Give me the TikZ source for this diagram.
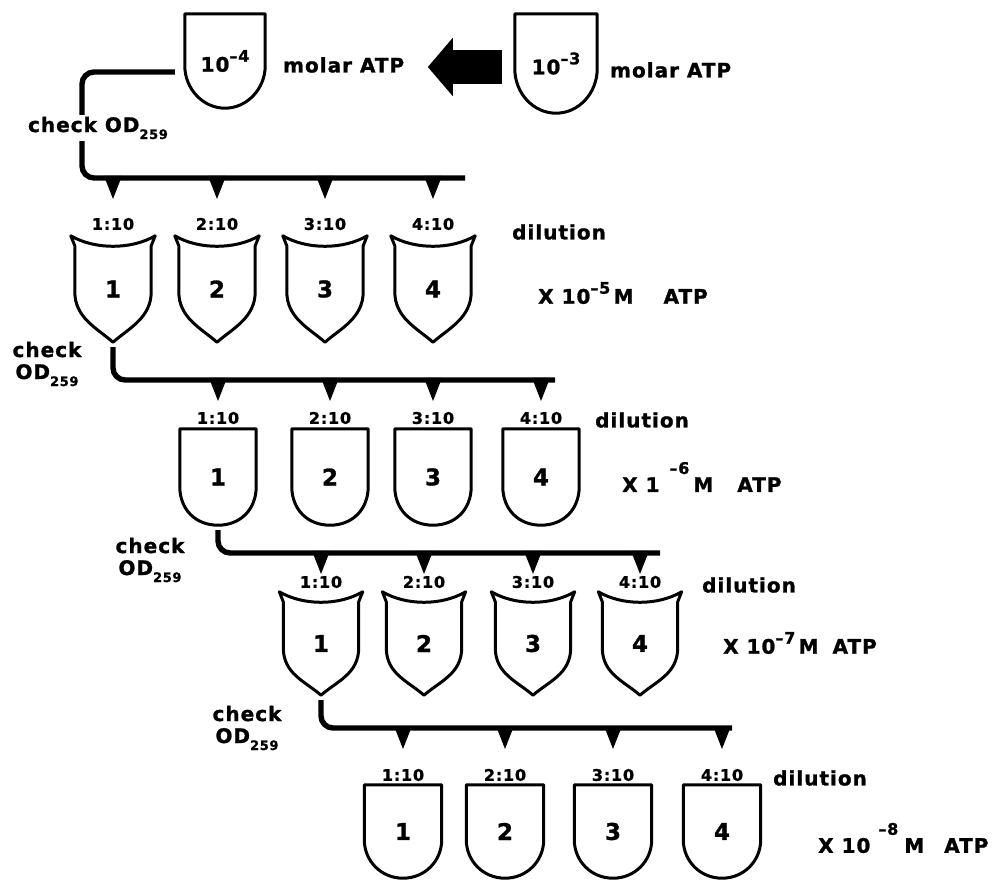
\documentclass[tikz,border=0pt]{standalone}
\usepackage{fontspec}
\setmainfont{DejaVu Sans}[LetterSpace=5, BoldFeatures={FakeBold=1.2}]
\usetikzlibrary{arrows.meta}

% raised exponent and lowered index in the label font
\newcommand\pw[2][0.5em]{\raisebox{#1}{\fontsize{16}{16}\selectfont #2}}
\newcommand\sbs[1]{\raisebox{-0.35em}{\fontsize{13}{13}\selectfont #1}}

\tikzset{
  word/.style={font=\fontsize{20}{22}\selectfont\bfseries, inner sep=0pt},
  ratio/.style={font=\fontsize{16}{16}\selectfont\bfseries, inner sep=0pt},
  tubebox/.style={draw=none, inner sep=0pt, font=\fontsize{23}{23}\selectfont\bfseries},
  shieldbox/.style={tubebox, minimum width=76pt, minimum height=106pt},
  ubox/.style={tubebox, minimum width=76pt, minimum height=96pt},
  outline/.style={line width=3pt, line join=round},
  bar/.style={line width=5.4pt, rounded corners=12pt},
  bigarrow/.style={line width=34pt, -{Triangle[width=57pt,length=25pt]}},
}

% shield-shaped tube: concave rim, straight sides, pointed bottom
\newcommand\shieldline[1]{%
  \draw[outline] ([xshift=-4pt]#1.north west)
    .. controls +(24,14) and +(-24,14) .. ([xshift=4pt]#1.north east)
    -- ([yshift=-10pt]#1.north east) -- ([yshift=-56pt]#1.north east)
    .. controls +(0,26) and +(16,-14) .. (#1.south)
    .. controls +(-16,-14) and +(0,26) .. ([yshift=-56pt]#1.north west)
    -- ([yshift=-10pt]#1.north west) -- cycle;}

% round-bottomed tube: #2 straight side length, #3/#4 curve handles
\newcommand\utubeline[4]{%
  \draw[outline] (#1.north west) -- (#1.north east)
    -- ([yshift=-#2pt]#1.north east)
    .. controls +(0,#3) and +(#4,0) .. (#1.south)
    .. controls +(-#4,0) and +(0,#3) .. ([yshift=-#2pt]#1.north west)
    -- cycle;}

% feed point on a distribution bar above a ratio label
\newcommand\drop[2]{\fill (#1.north |- #2) ++(-9,-2) -- ++(18,0) -- ++(-9,23) -- cycle;}

\begin{document}
\begin{tikzpicture}[x=1pt,y=-1pt]
\useasboundingbox[fill=white] (0,0) rectangle (997,882);

% stock solutions
\node[tubebox, minimum width=80pt, minimum height=94pt, font=\fontsize{20}{20}\selectfont\bfseries] (A) at (225,61) {10\pw{--4}};
\node[tubebox, minimum width=82pt, minimum height=99pt, font=\fontsize{20}{20}\selectfont\bfseries] (B) at (556,63.5) {10\pw{--3}};
\utubeline{A}{52}{23}{22}
\utubeline{B}{55}{24}{23}
\node[word, anchor=west] (molA) at (283,65) {molar ATP};
\node[word, anchor=west] (molB) at (610,70) {molar ATP};
\draw[bigarrow] ([xshift=-13pt,yshift=-3.5pt]B.west) -- ([xshift=-87pt,yshift=-3.5pt]B.west);

% first distribution bar
\coordinate (c0) at (82,178);
\coordinate (e0) at (465,178);
\draw[bar] ([xshift=-10pt,yshift=-11pt]A.west) -| (c0) -- (e0);
\node[word, fill=white, inner sep=1.5pt] (chk0) at (98,128) {check OD\sbs{259}};

% series 1
\foreach \i/\x in {1/113,2/217,3/325,4/433} {
  \node[shieldbox] (s1\i) at (\x,289) {\i};
  \shieldline{s1\i}
  \node[ratio] (r1\i) at (\x,224) {\i:10};
  \drop{r1\i}{e0}
}
\node[word, anchor=west] (dil1) at (512,232) {dilution};
\node[word, anchor=west] (x1) at (538,293) {X 10\pw{--5}\,M\hspace{1.5em}ATP};
\node[word, align=center] (chk1) at (47,364) {check\\OD\sbs{259}};
\coordinate (e1) at (555,380);
\draw[bar] ([yshift=-5pt]s11.south) |- (e1);

% series 2
\foreach \i/\x in {1/218,2/330,3/433,4/541} {
  \node[ubox] (u2\i) at (\x,477) {\i};
  \utubeline{u2\i}{58}{22}{23}
  \node[ratio] (r2\i) at (\x,418) {\i:10};
  \drop{r2\i}{e1}
}
\node[word, anchor=west] (dil2) at (595,420) {dilution};
\node[word, anchor=west] (x2) at (622,477) {X 1\hspace{0.5em}\pw[0.9em]{--6}\hspace{0.2em}M\hspace{1.2em}ATP};
\node[word, align=center] (chk2) at (150,560) {check\\OD\sbs{259}};
\coordinate (e2) at (660,553);
\draw[bar] ([yshift=-5pt]u21.south) |- (e2);

% series 3
\foreach \i/\x in {1/321,2/424,3/533,4/640} {
  \node[shieldbox, minimum width=75pt, minimum height=103pt] (s3\i) at (\x,643.5) {\i};
  \shieldline{s3\i}
  \node[ratio] (r3\i) at (\x,582) {\i:10};
  \drop{r3\i}{e2}
}
\node[word, anchor=west] (dil3) at (702,585) {dilution};
\node[word, anchor=west] (x3) at (723,643) {X 10\pw{--7}\,M\hspace{0.7em}ATP};
\node[word, align=center] (chk3) at (247,728) {check\\OD\sbs{259}};
\coordinate (e3) at (732,728);
\draw[bar] ([yshift=-5pt]s31.south) |- (e3);

% series 4
\foreach \i/\x in {1/403,2/505,3/613,4/722} {
  \node[ubox, minimum width=77pt, minimum height=93pt] (u4\i) at (\x,831.5) {\i};
  \utubeline{u4\i}{55}{21}{22}
  \node[ratio] (r4\i) at (\x,775) {\i:10};
  \drop{r4\i}{e3}
}
\node[word, anchor=west] (dil4) at (773,778) {dilution};
\node[word, anchor=west] (x4) at (818,838) {X 10\hspace{0.4em}\pw[0.9em]{--8}\hspace{0.3em}M\hspace{1em}ATP};
\end{tikzpicture}
\end{document}
